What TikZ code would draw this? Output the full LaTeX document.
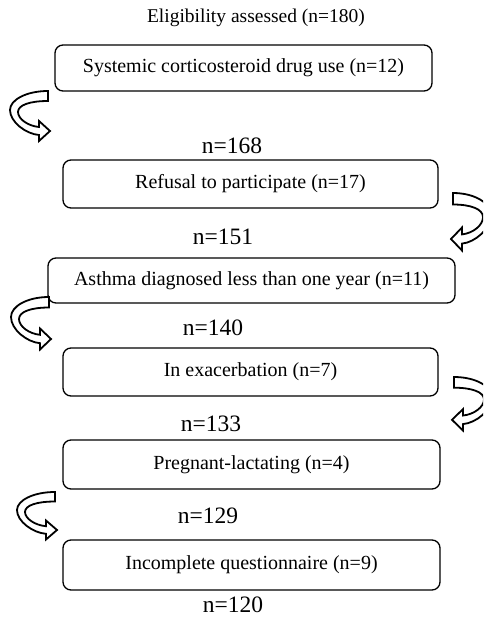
\documentclass[tikz,border=0pt]{standalone}
\usepackage{fontspec}
\setmainfont{Liberation Serif}
\begin{document}
\begin{tikzpicture}[x=1pt,y=-1pt,
  box/.style={draw=black,line width=1.3pt,rounded corners=8pt,inner sep=0pt,font=\fontsize{20}{23}\selectfont},
  lbl/.style={inner sep=0pt,font=\fontsize{23.5}{27}\selectfont},
  ttl/.style={inner sep=0pt,font=\fontsize{19.5}{23}\selectfont},
  carrow/.pic={
    \draw[line width=1.8pt,fill=white,line join=miter]
      (0,0) .. controls (-22,0) and (-38,9) .. (-38,19)
      .. controls (-38,31) and (-22,43) .. (-9,44)
      -- (-9,50) -- (2,40) -- (-9,30) -- (-9,36)
      .. controls (-20,35) and (-30,28) .. (-30,21)
      .. controls (-30,14) and (-18,10) .. (0,10) -- cycle;
  }]
\useasboundingbox (0,0) rectangle (483,619);
\clip (0,0) rectangle (483,619);
\node[ttl] (title) at (256,18) {Eligibility assessed (n=180)};
\node[box,minimum width=377pt,minimum height=46pt] (b1) at (243.5,68) {Systemic corticosteroid drug use (n=12)};
\node[lbl] (n168) at (232,146) {n=168};
\node[box,minimum width=375pt,minimum height=48pt] (b2) at (250.5,184) {Refusal to participate (n=17)};
\node[lbl] (n151) at (223,237) {n=151};
\node[box,minimum width=407pt,minimum height=45pt] (b3) at (251.5,280.5) {Asthma diagnosed less than one year (n=11)};
\node[lbl] (n140) at (213,328) {n=140};
\node[box,minimum width=375pt,minimum height=48pt] (b4) at (250.5,372) {In exacerbation (n=7)};
\node[lbl] (n133) at (211,424) {n=133};
\node[box,minimum width=377pt,minimum height=49pt] (b5) at (251.5,464.5) {Pregnant-lactating (n=4)};
\node[lbl] (n129) at (208,516) {n=129};
\node[box,minimum width=377pt,minimum height=50pt] (b6) at (251.5,565) {Incomplete questionnaire (n=9)};
\node[lbl] (n120) at (233,605) {n=120};
% curved block arrows
\pic at (48,91) {carrow};
\pic[xscale=-1,yscale=1.15] at (453,193) {carrow};
\pic[yscale=1.05] at (49,297) {carrow};
\pic[xscale=-1,yscale=1.07] at (454,377) {carrow};
\pic[yscale=0.95] at (55,492) {carrow};
\end{tikzpicture}
\end{document}
